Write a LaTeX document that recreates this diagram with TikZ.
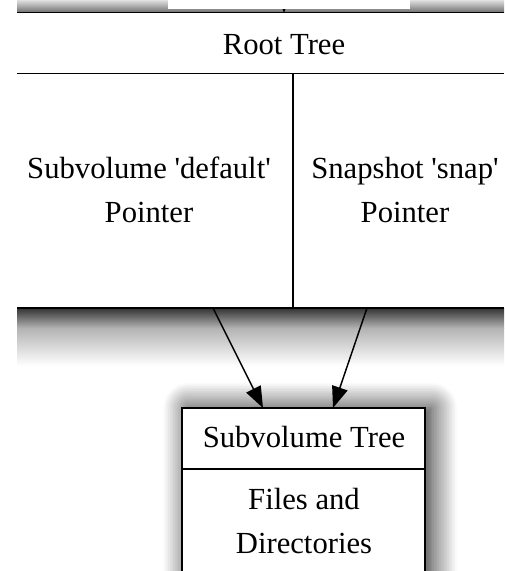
\documentclass[tikz,border=0pt]{standalone}
\usepackage{fontspec}
\setmainfont{Liberation Serif}
\usetikzlibrary{arrows.meta, shadows.blur}

\begin{document}
\begin{tikzpicture}[x = 0.75pt, y = -0.75pt, line width = 1.2pt,
    every node/.style = {font = \fontsize{23}{33}\selectfont, align = center, inner sep = 0pt},
    edge/.style = {-{Triangle[length = 16pt, width = 12pt, fill = black]}, line width = 1.1pt, black}]
    \useasboundingbox (0, 0) rectangle (504, 571);
    \clip (0, 0) rectangle (504, 571);

    % shadow band over the root tree
    \shade[top color = black!12, bottom color = black!55] (17, 0) rectangle (504, 12);
    \coordinate (up) at (284, 0);
    \coordinate (rtop) at (284, 13);
    \draw[edge] (up) -- (rtop);
    \fill[white] (168, 0) rectangle (410, 9);

    % shadow below the root tree
    \shade[top color = black!80, bottom color = black!30] (17, 308) rectangle (504, 328);
    \shade[top color = black!30, bottom color = white] (17, 328) rectangle (504, 366);

    % subvolume tree record
    \draw[fill = white, blur shadow = {shadow xshift = 5pt, shadow yshift = 0pt,
        shadow blur radius = 19pt, shadow opacity = 90, shadow blur steps = 16}]
        (182, 408) rectangle (425, 600);
    \draw (182, 469) -- (425, 469);
    \node (subtree) at (304, 437) {Subvolume Tree};
    \node (files) at (304, 521) {Files and\\Directories};

    % root tree record
    \draw (17, 12.5) -- (504, 12.5)
    (17, 73.5) -- (504, 73.5)
    (17, 308) -- (504, 308)
    (293, 73.5) -- (293, 308);
    \node (root) at (284, 45) {Root Tree};
    \node (subptr) at (149, 190) {Subvolume \textquotesingle default\textquotesingle\\Pointer};
    \node (snapptr) at (405, 190) {Snapshot \textquotesingle snap\textquotesingle\\Pointer};

    % pointers
    \coordinate (subout) at (213, 308);
    \coordinate (snapout) at (367, 308);
    \coordinate (subin) at (263, 408);
    \coordinate (snapin) at (333, 408);
    \draw[edge] (subout) -- (subin);
    \draw[edge] (snapout) -- (snapin);
\end{tikzpicture}
\end{document}
